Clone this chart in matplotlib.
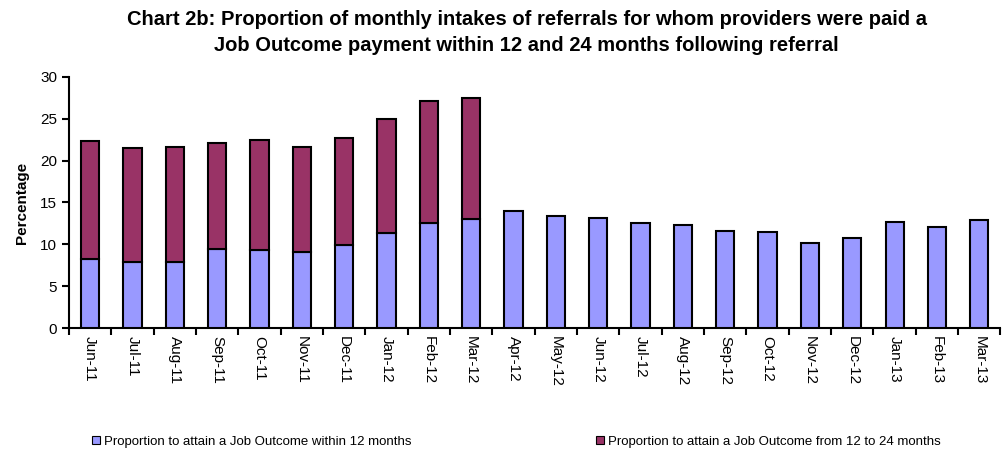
import matplotlib
matplotlib.use("Agg")
import matplotlib.pyplot as plt
import numpy as np
from matplotlib.patches import Patch
from matplotlib.ticker import FixedLocator

plt.rcParams['font.family'] = ['Liberation Sans', 'DejaVu Sans']

months = ["Jun-11", "Jul-11", "Aug-11", "Sep-11", "Oct-11", "Nov-11", "Dec-11",
          "Jan-12", "Feb-12", "Mar-12", "Apr-12", "May-12", "Jun-12", "Jul-12",
          "Aug-12", "Sep-12", "Oct-12", "Nov-12", "Dec-12", "Jan-13", "Feb-13", "Mar-13"]
within_12 = [8.25, 7.85, 7.85, 9.5, 9.3, 9.1, 9.9, 11.4, 12.6, 13.05,
             13.95, 13.35, 13.1, 12.5, 12.3, 11.65, 11.45, 10.2, 10.8, 12.7, 12.1, 12.9]
total_24 = [22.35, 21.5, 21.65, 22.1, 22.5, 21.65, 22.7, 25.0, 27.1, 27.5]
from_12_to_24 = [t - w for t, w in zip(total_24, within_12)] + [0] * (len(months) - len(total_24))

blue = "#9999FF"
maroon = "#993366"

fig = plt.figure(figsize=(10.07, 4.54), dpi=100)
ax = fig.add_axes([0.0685, 0.2775, 0.925, 0.553])

x = np.arange(len(months))
w = 0.43
ax.bar(x, within_12, width=w, color=blue, edgecolor="black", linewidth=1.5, zorder=3)
n2 = len(total_24)
ax.bar(x[:n2], from_12_to_24[:n2], width=w, bottom=within_12[:n2], color=maroon,
       edgecolor="black", linewidth=1.5, zorder=3)

ax.set_xlim(-0.5, len(months) - 0.5)
ax.set_ylim(0, 30)
ax.set_yticks(range(0, 31, 5))
ax.set_xticks(x)
ax.set_xticklabels(months, rotation=270, fontsize=11)
ax.xaxis.set_minor_locator(FixedLocator(np.arange(-0.5, len(months), 1.0)))
ax.tick_params(axis='x', which='major', length=0, pad=6)
ax.tick_params(axis='x', which='minor', length=5, width=1.5, direction='out')
ax.tick_params(axis='y', length=5, width=1.5, direction='out', labelsize=11)

for s in ['top', 'right']:
    ax.spines[s].set_visible(False)
for s in ['left', 'bottom']:
    ax.spines[s].set_linewidth(1.5)

ax.set_ylabel("Percentage", fontsize=11, fontweight='bold', labelpad=8)

fig.text(0.523, 0.978, "Chart 2b: Proportion of monthly intakes of referrals for whom providers were paid a\n"
         "Job Outcome payment within 12 and 24 months following referral",
         ha='center', va='top', fontsize=14.5, fontweight='bold', linespacing=1.45)

leg1 = fig.legend(handles=[Patch(facecolor=blue, edgecolor='black', linewidth=0.8,
                                 label="Proportion to attain a Job Outcome within 12 months")],
                  loc='center left', bbox_to_anchor=(0.08, 0.027), frameon=False, fontsize=9.5,
                  handlelength=0.6, handleheight=0.6, handletextpad=0.3)
leg2 = fig.legend(handles=[Patch(facecolor=maroon, edgecolor='black', linewidth=0.8,
                                 label="Proportion to attain a Job Outcome from 12 to 24 months")],
                  loc='center left', bbox_to_anchor=(0.58, 0.027), frameon=False, fontsize=9.5,
                  handlelength=0.6, handleheight=0.6, handletextpad=0.3)

fig.savefig("out.png", dpi=100)
